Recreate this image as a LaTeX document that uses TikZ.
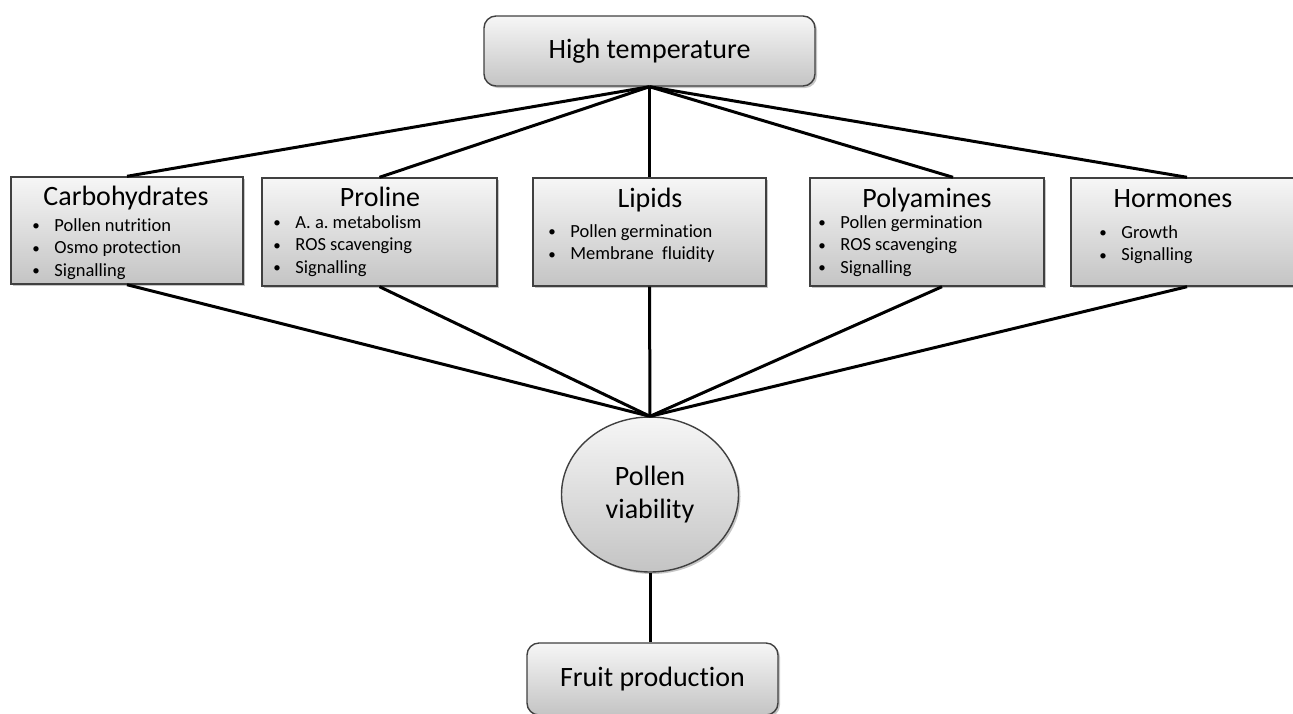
\documentclass[tikz,border=0pt]{standalone}
\usepackage{fontspec}
\setmainfont{Carlito}[Ligatures=NoCommon]
\usetikzlibrary{shadows,shapes.geometric}
\frenchspacing

\definecolor{boxtop}{RGB}{246,246,246}
\definecolor{boxbot}{RGB}{196,196,196}
\definecolor{boxline}{RGB}{64,64,64}

\tikzset{every picture/.style={line width=0.75pt}}
\tikzset{
  factor/.style={draw=boxline, line width=1.4pt, top color=boxtop, bottom color=boxbot,
    drop shadow={shadow xshift=2pt, shadow yshift=-2pt, opacity=0.45},
    minimum width=232pt, minimum height=108pt, inner sep=0pt},
  endbox/.style={factor, rounded corners=12pt, font=\fontsize{28}{32}\selectfont},
  title/.style={inner sep=0pt, font=\fontsize{28}{32}\selectfont},
  items/.style={inner sep=0pt, anchor=base west, font=\fontsize{18.5}{22.5}\selectfont},
  link/.style={line width=3pt, black},
}
\newcommand{\bul}[1]{\makebox[22pt][l]{\raisebox{0.5pt}{\fontsize{15}{15}\selectfont•}}#1}

\begin{document}
\begin{tikzpicture}[x=1pt,y=1pt,yscale=-1,xscale=1]
	\useasboundingbox (0,0) rectangle (1293,713);
	\clip (0,0) rectangle (1293,713);

	% top and bottom
	\node [endbox, minimum width=331pt, minimum height=70pt] (ht) at (649.5,51) {High temperature};
	\node [factor, ellipse, minimum width=177pt, minimum height=155pt,
	  font=\fontsize{28}{33}\selectfont, align=center] (pv) at (650,494.5) {Pollen\\viability};
	\node [endbox, minimum width=251pt, minimum height=72pt] (fp) at (652.5,679) {Fruit production};

	% factor boxes
	\node [factor, minimum height=107pt] (carb) at (127,230.5) {};
	\node [factor, minimum width=235pt] (prol) at (379.5,232) {};
	\node [factor, minimum width=233pt] (lip) at (649.5,232) {};
	\node [factor, minimum width=234pt] (poly) at (927,232) {};
	\node [factor] (horm) at (1187,232) {};

	% Text Node
	\node [title] (carbT) at (126,198) {Carbohydrates};
	\node [items] (carbL) at (32,231) {\begin{tabular}[t]{@{}l@{}}\bul{Pollen nutrition}\\\bul{Osmo protection}\\\bul{Signalling}\end{tabular}};
	% Text Node
	\node [title] (prolT) at (380,197) {Proline};
	\node [items] (prolL) at (273,228) {\begin{tabular}[t]{@{}l@{}}\bul{A. a. metabolism}\\\bul{ROS scavenging}\\\bul{Signalling}\end{tabular}};
	% Text Node
	\node [title] (lipT) at (650,200) {Lipids};
	\node [items] (lipL) at (548,237) {\begin{tabular}[t]{@{}l@{}}\bul{Pollen germination}\\\bul{Membrane\ \ fluidity}\end{tabular}};
	% Text Node
	\node [title] (polyT) at (927,200) {Polyamines};
	\node [items] (polyL) at (818,228) {\begin{tabular}[t]{@{}l@{}}\bul{Pollen germination}\\\bul{ROS scavenging}\\\bul{Signalling}\end{tabular}};
	% Text Node
	\node [title] (hormT) at (1173,199) {Hormones};
	\node [items] (hormL) at (1099,238) {\begin{tabular}[t]{@{}l@{}}\bul{Growth}\\\bul{Signalling}\end{tabular}};

	% links from high temperature
	\draw [link] (ht.south) -- (carb.north);
	\draw [link] (ht.south) -- (prol.north);
	\draw [link] (ht.south) -- (lip.north);
	\draw [link] (ht.south) -- ([xshift=26pt]poly.north);
	\draw [link] (ht.south) -- (horm.north);

	% links to pollen viability
	\draw [link] (carb.south) -- (pv.north);
	\draw [link] (prol.south) -- (pv.north);
	\draw [link] (lip.south) -- (pv.north);
	\draw [link] ([xshift=15pt]poly.south) -- (pv.north);
	\draw [link] (horm.south) -- (pv.north);

	\draw [link] (pv.south) -- (pv.south |- fp.north);
\end{tikzpicture}
\end{document}
